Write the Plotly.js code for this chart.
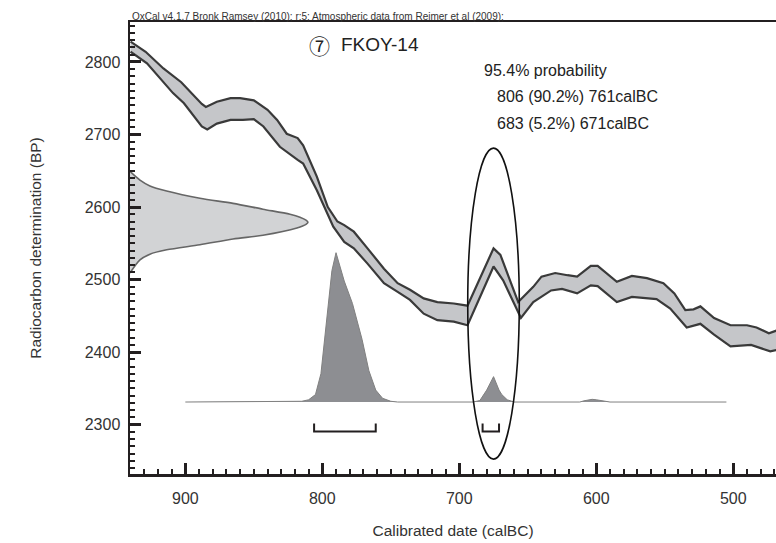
<!DOCTYPE html>
<html>
<head>
<meta charset="utf-8">
<script src="https://cdn.plot.ly/plotly-3.0.1.min.js"></script>
<style>html,body{margin:0;padding:0;background:#fff;}#chart{width:776px;height:543px;}</style>
</head>
<body>
<div id="chart"></div>
<script>
// Calibration curve (IntCal09) – upper and lower 1-sigma edges
var upperYears = [940, 929, 916, 903, 888, 885, 877, 867, 860, 850, 840, 833, 826, 818, 814, 804, 796, 789, 784, 777, 767, 755, 745, 736, 726, 716, 704, 694, 675, 670, 657, 646, 640, 630, 621, 614, 604, 599, 585, 574, 563, 551, 543, 535, 529, 524, 514, 502, 490, 483, 474, 468];
var upperBP    = [2828, 2814, 2791, 2772, 2742, 2738, 2745, 2750, 2750, 2747, 2734, 2720, 2701, 2695, 2685, 2642, 2600, 2580, 2575, 2566, 2543, 2515, 2495, 2486, 2474, 2469, 2467, 2464, 2543, 2534, 2469, 2490, 2504, 2509, 2506, 2504, 2519, 2519, 2497, 2505, 2502, 2495, 2481, 2458, 2459, 2463, 2447, 2437, 2437, 2434, 2426, 2430];
var lowerYears = [940, 928, 909, 901, 888, 884, 877, 867, 858, 850, 843, 831, 818, 814, 804, 792, 784, 777, 767, 755, 745, 736, 726, 716, 704, 694, 675, 668, 655, 646, 633, 625, 614, 604, 599, 585, 574, 556, 546, 534, 524, 514, 502, 487, 473, 468];
var lowerBP    = [2814, 2798, 2757, 2743, 2711, 2707, 2715, 2720, 2720, 2721, 2711, 2683, 2665, 2660, 2623, 2573, 2552, 2543, 2522, 2495, 2483, 2472, 2453, 2444, 2442, 2437, 2518, 2499, 2447, 2469, 2485, 2487, 2481, 2492, 2491, 2469, 2476, 2473, 2460, 2434, 2439, 2424, 2408, 2410, 2401, 2403];

// Radiocarbon measurement distribution (BP, relative probability)
var c14BP   = [2649, 2637, 2629, 2622, 2612, 2605, 2597, 2590, 2586, 2582, 2579, 2576, 2571, 2561, 2556, 2548, 2541, 2535, 2527, 2509];
var c14Prob = [0, 0.056, 0.112, 0.206, 0.393, 0.579, 0.747, 0.899, 0.955, 0.989, 1.0, 0.989, 0.938, 0.747, 0.579, 0.393, 0.206, 0.112, 0.056, 0];

// Calibrated date distribution (calBC, relative probability)
var calYears = [900, 820, 815, 810, 805, 801, 799, 796, 793, 790, 784, 778, 775, 771, 766, 761, 756, 750, 745, 690, 685, 680, 675, 671, 669, 665, 660, 612, 609, 603, 600, 595, 590, 505];
var calProb  = [0, 0, 0.005, 0.015, 0.05, 0.19, 0.37, 0.64, 0.88, 1.0, 0.81, 0.66, 0.56, 0.42, 0.21, 0.08, 0.025, 0.005, 0, 0, 0.01, 0.08, 0.17, 0.08, 0.05, 0.015, 0, 0, 0.008, 0.018, 0.015, 0.005, 0, 0];

// 95.4% ranges
var rangeFrom = [806, 683];
var rangeTo   = [761, 671];
var rangePct  = ["90.2%", "5.2%"];

// Tick labels
var xTicks = [900, 800, 700, 600, 500];
var yTicks = [2300, 2400, 2500, 2600, 2700, 2800];

var FONT = "Liberation Sans, Arial, Helvetica, sans-serif";
var INK = "#231f20";
var TXT = "#333";

var bandX = upperYears.concat(lowerYears.slice().reverse());
var bandY = upperBP.concat(lowerBP.slice().reverse());

var traces = [
  {x: bandX, y: bandY, type: "scatter", mode: "lines", fill: "toself", fillcolor: "#c5c6c9",
   line: {width: 0}, hoverinfo: "skip", showlegend: false},
  {x: upperYears, y: upperBP, type: "scatter", mode: "lines", line: {color: "#3a3a3a", width: 2.2}, hoverinfo: "skip", showlegend: false},
  {x: lowerYears, y: lowerBP, type: "scatter", mode: "lines", line: {color: "#3a3a3a", width: 2.2}, hoverinfo: "skip", showlegend: false},
  {x: c14Prob, y: c14BP, xaxis: "x2", yaxis: "y", type: "scatter", mode: "lines", fill: "tozerox",
   fillcolor: "#d2d3d5", line: {color: "#666", width: 1.6, shape: "spline", smoothing: 0.8}, hoverinfo: "skip", showlegend: false},
  {x: calYears, y: calProb, xaxis: "x", yaxis: "y2", type: "scatter", mode: "lines", fill: "tozeroy",
   fillcolor: "#8d8e92", line: {color: "#808080", width: 1}, hoverinfo: "skip", showlegend: false}
];

var shapes = [
  {type: "circle", xref: "paper", yref: "paper", x0: 0.5228, x1: 0.6026, y0: 0.033, y1: 0.721,
   line: {color: "#111", width: 1.6}, layer: "above"}
];
for (var i = 0; i < rangeFrom.length; i++) {
  shapes.push({type: "path", xref: "x", yref: "paper",
    path: "M" + rangeFrom[i] + ",0.112 L" + rangeFrom[i] + ",0.094 L" + rangeTo[i] + ",0.094 L" + rangeTo[i] + ",0.112",
    line: {color: INK, width: 2}, layer: "above"});
}

var annotations = [
  {xref: "paper", yref: "paper", x: 0, y: 1.0126, xanchor: "left", yanchor: "middle", showarrow: false,
   text: "OxCal v4.1.7 Bronk Ramsey (2010); r:5; Atmospheric data from Reimer et al (2009);",
   font: {family: FONT, size: 10, color: TXT}},
  {xref: "paper", yref: "paper", x: 0.2941, y: 0.950, xanchor: "center", yanchor: "middle", showarrow: false,
   text: "⑦", font: {family: "Noto Sans CJK JP, DejaVu Sans, sans-serif", size: 21, color: "#222"}},
  {xref: "paper", yref: "paper", x: 0.3235, y: 0.9507, xanchor: "left", yanchor: "middle", showarrow: false,
   text: "FKOY-14", font: {family: FONT, size: 19, color: "#222"}},
  {xref: "paper", yref: "paper", x: 0.5449, y: 0.8933, xanchor: "left", yanchor: "middle", showarrow: false,
   text: "95.4% probability", font: {family: FONT, size: 16, color: "#222"}}
];
var rowY = [0.8351, 0.7761];
for (var j = 0; j < rangeFrom.length; j++) {
  annotations.push({xref: "paper", yref: "paper", x: 0.565, y: rowY[j], xanchor: "left", yanchor: "middle", showarrow: false,
    text: rangeFrom[j] + " (" + rangePct[j] + ") " + rangeTo[j] + "calBC", font: {family: FONT, size: 16, color: "#222"}});
}

var layout = {
  width: 776, height: 543,
  margin: {l: 130, r: 0, t: 22, b: 69, pad: 0},
  paper_bgcolor: "#fff", plot_bgcolor: "#fff",
  font: {family: FONT, color: TXT},
  showlegend: false,
  xaxis: {
    range: [940.4, 468.8], tickmode: "array", tickvals: xTicks, ticktext: xTicks.map(String),
    ticks: "inside", ticklen: 11, tickwidth: 3, tickcolor: INK,
    showline: true, linewidth: 2.5, linecolor: INK, mirror: true,
    showgrid: false, zeroline: false,
    minor: {dtick: 10, tick0: 0, ticks: "inside", ticklen: 5, tickwidth: 2, tickcolor: INK, showgrid: false},
    tickfont: {size: 16, family: FONT, color: TXT},
    ticklabelstandoff: 8,
    title: {text: "Calibrated date (calBC)", font: {size: 15.5, family: FONT, color: TXT}, standoff: 20}
  },
  yaxis: {
    range: [2232, 2855], tickmode: "array", tickvals: yTicks, ticktext: yTicks.map(String),
    ticks: "inside", ticklen: 11, tickwidth: 3, tickcolor: INK,
    showline: true, linewidth: 2.5, linecolor: INK,
    showgrid: false, zeroline: false,
    minor: {dtick: 10, tick0: 0, ticks: "inside", ticklen: 5, tickwidth: 2, tickcolor: INK, showgrid: false},
    tickfont: {size: 16, family: FONT, color: TXT},
    ticklabelstandoff: 4,
    title: {text: "Radiocarbon determination (BP)", font: {size: 15.5, family: FONT, color: TXT}, standoff: 40}
  },
  xaxis2: {overlaying: "x", anchor: "y", range: [0, 3.63], visible: false, showgrid: false, zeroline: false},
  yaxis2: {overlaying: "y", anchor: "x", range: [-0.482, 2.545], visible: false, showgrid: false, zeroline: false},
  shapes: shapes,
  annotations: annotations
};

Plotly.newPlot("chart", traces, layout, {staticPlot: true, displayModeBar: false});
</script>
</body>
</html>
